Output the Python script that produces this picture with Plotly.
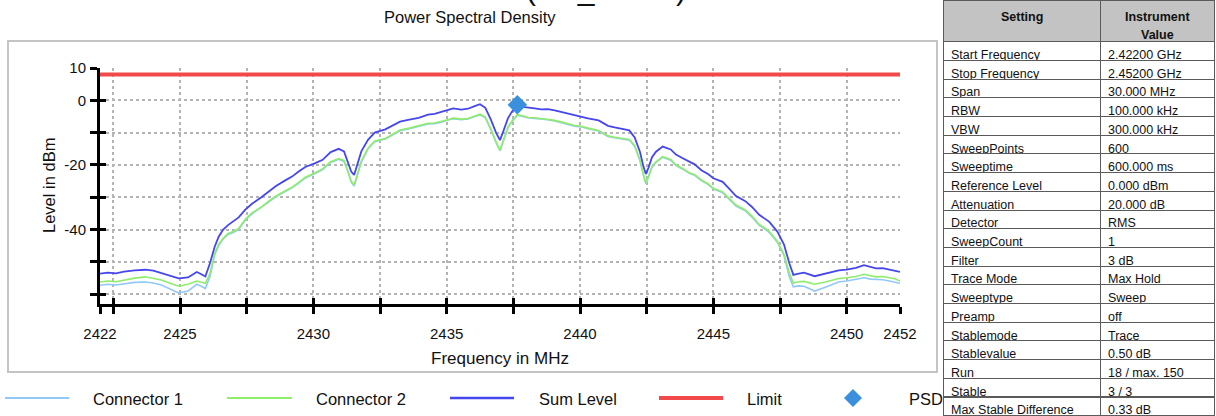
import plotly.graph_objects as go

W, H = 1216, 416

# ---------------- data ----------------
freq_mhz = [
    2422.0, 2422.3, 2422.6, 2422.9, 2423.3, 2423.7, 2424.0, 2424.3, 2424.6, 2424.95,
    2425.3, 2425.63, 2425.8, 2425.95, 2426.12, 2426.3, 2426.45, 2426.62, 2426.8, 2427.0,
    2427.2, 2427.45, 2427.7, 2428.05, 2428.35, 2428.6, 2428.9, 2429.2, 2429.45, 2429.7,
    2430.05, 2430.35, 2430.65, 2430.95, 2431.15, 2431.3, 2431.42, 2431.53, 2431.63, 2431.8,
    2432.05, 2432.3, 2432.7, 2433.0, 2433.25, 2433.6, 2433.95, 2434.3, 2434.55, 2434.8,
    2435.05, 2435.25, 2435.55, 2435.8, 2436.05, 2436.25, 2436.45, 2436.65, 2436.85, 2437.0,
    2437.15, 2437.3, 2437.45, 2437.65, 2437.85, 2438.05, 2438.3, 2438.55, 2438.8, 2439.05,
    2439.4, 2439.8, 2440.05, 2440.3, 2440.7, 2441.05, 2441.3, 2441.6, 2441.85, 2442.05,
    2442.25, 2442.38, 2442.47, 2442.57, 2442.7, 2442.85, 2443.1, 2443.4, 2443.6, 2443.85,
    2444.1, 2444.3, 2444.55, 2444.8, 2445.0, 2445.35, 2445.6, 2445.85, 2446.2, 2446.45,
    2446.72, 2446.9, 2447.1, 2447.4, 2447.65, 2447.85, 2448.0, 2448.2, 2448.4, 2448.8,
    2449.2, 2449.7, 2450.0, 2450.35, 2450.65, 2450.9, 2451.1, 2451.35, 2451.6, 2451.8,
    2452.0,
]

sum_level_dbm = [
    -53.6, -53.3, -53.5, -53.0, -52.6, -52.4, -52.7, -53.4, -54.2, -55.1,
    -54.8, -53.1, -53.8, -54.5, -50.5, -45.3, -42.2, -40.0, -38.6, -37.5,
    -36.2, -33.8, -32.0, -30.0, -28.0, -26.5, -25.0, -23.6, -22.0, -20.6,
    -19.5, -18.4, -16.0, -15.0, -15.8, -19.0, -22.0, -23.1, -20.5, -15.8,
    -12.2, -10.0, -9.0, -7.8, -6.6, -6.0, -5.4, -4.4, -4.2, -3.6,
    -3.0, -2.5, -2.9, -2.6, -1.8, -1.2, -2.3, -5.8, -10.0, -12.3,
    -9.0, -5.5, -3.5, -1.7, -2.0, -2.3, -2.5, -2.8, -2.7, -3.1,
    -3.8, -4.7, -5.0, -5.6, -6.2, -7.9, -8.4, -9.0, -9.3, -11.5,
    -16.0, -20.5, -22.8, -20.8, -17.6, -15.9, -14.3, -15.2, -16.8, -17.9,
    -19.0, -19.8, -21.6, -22.8, -24.1, -25.2, -27.4, -29.6, -31.2, -33.0,
    -35.4, -36.5, -37.6, -40.6, -44.6, -50.4, -54.0, -53.6, -53.3, -54.4,
    -53.5, -52.6, -52.4, -51.8, -51.0, -51.6, -52.0, -51.9, -52.4, -52.6,
    -53.1,
]

connector2_dbm = [
    -56.2, -55.9, -56.1, -55.6, -55.0, -54.6, -55.0, -55.6, -56.5, -57.5,
    -56.9, -55.9, -56.3, -56.6, -53.6, -47.4, -44.5, -42.7, -41.2, -40.6,
    -39.6, -36.8, -34.8, -33.0, -31.0, -29.6, -28.2, -26.9, -25.4, -23.8,
    -22.5, -21.2, -19.0, -18.0, -18.6, -21.8, -25.0, -26.2, -23.5, -18.8,
    -14.8, -12.6, -11.8, -10.4, -9.2, -8.6, -7.9, -7.1, -7.0, -6.6,
    -6.0, -5.5, -5.8, -5.6, -4.9, -4.3, -5.2, -8.7, -12.8, -15.4,
    -11.8, -8.3, -6.4, -4.4, -4.8, -5.3, -5.4, -5.6, -5.8, -6.2,
    -6.9, -7.8, -8.0, -8.6, -9.3, -11.0, -11.4, -11.8, -12.1, -14.0,
    -18.5, -23.0, -25.6, -23.5, -20.5, -19.0, -17.4, -18.3, -20.0, -21.1,
    -22.4, -23.0, -24.6, -25.8, -27.2, -28.3, -30.5, -32.4, -33.9, -35.8,
    -38.4, -39.3, -40.6, -43.6, -47.6, -53.4, -56.5, -56.1, -56.0, -56.9,
    -56.2, -55.1, -54.9, -54.5, -53.8, -54.3, -54.6, -54.5, -54.8, -55.2,
    -55.9,
]

connector1_dbm = [
    -57.2, -56.9, -57.1, -56.7, -56.3, -56.2, -56.5, -57.1, -58.2, -59.6,
    -59.0, -56.9, -57.5, -58.2, -54.6, -47.8, -44.9, -42.9, -41.5, -40.9,
    -39.9, -37.0, -35.1, -33.2, -31.3, -29.8, -28.4, -27.1, -25.6, -24.0,
    -22.7, -21.4, -19.2, -18.2, -18.9, -22.0, -25.3, -26.5, -23.8, -19.1,
    -15.0, -12.8, -12.0, -10.6, -9.4, -8.8, -8.0, -7.3, -7.2, -6.8,
    -6.1, -5.7, -6.0, -5.8, -5.0, -4.5, -5.4, -8.9, -13.0, -15.6,
    -12.0, -8.5, -6.6, -4.6, -5.0, -5.4, -5.6, -5.7, -6.0, -6.4,
    -7.1, -8.0, -8.2, -8.8, -9.5, -11.2, -11.6, -12.0, -12.3, -14.2,
    -18.7, -23.2, -25.8, -23.7, -20.7, -19.2, -17.6, -18.5, -20.2, -21.3,
    -22.6, -23.2, -24.8, -26.0, -27.4, -28.6, -30.8, -32.7, -34.2, -36.1,
    -38.7, -39.6, -40.9, -43.9, -48.0, -54.6, -57.7, -57.4, -57.5, -59.0,
    -57.8, -56.2, -55.9, -55.4, -54.9, -55.3, -55.4, -55.5, -55.9, -56.2,
    -56.6,
]

limit_freq = [2422, 2452]
limit_dbm = [8, 8]

psd_freq = [2437.65]
psd_dbm = [-1.4]

x_tick_vals = [2422, 2422.5, 2425, 2427.5, 2430, 2432.5, 2435, 2437.5,
               2440, 2442.5, 2445, 2447.5, 2450, 2452]
x_tick_text = ["2422", "", "2425", "", "2430", "", "2435", "",
               "2440", "", "2445", "", "2450", "2452"]
y_tick_vals = [10, 0, -10, -20, -30, -40, -50, -60]
y_tick_text = ["10", "0", "", "-20", "", "-40", "", ""]
x_range = [2422, 2452]
y_range = [-63, 10]

table_header = ["Setting", "Instrument", "Value"]
setting_names = [
    "Start Frequency", "Stop Frequency", "Span", "RBW", "VBW", "SweepPoints",
    "Sweeptime", "Reference Level", "Attenuation", "Detector", "SweepCount",
    "Filter", "Trace Mode", "Sweeptype", "Preamp", "Stablemode", "Stablevalue",
    "Run", "Stable", "Max Stable Difference",
]
setting_values = [
    "2.42200 GHz", "2.45200 GHz", "30.000 MHz", "100.000 kHz", "300.000 kHz", "600",
    "600.000 ms", "0.000 dBm", "20.000 dB", "RMS", "1",
    "3 dB", "Max Hold", "Sweep", "off", "Trace", "0.50 dB",
    "18 / max. 150", "3 / 3", "0.33 dB",
]

series_names = ["Connector 1", "Connector 2", "Sum Level", "Limit", "PSD"]

# ---------------- style ----------------
FONT = "Liberation Sans, Arial, sans-serif"
C_CON1 = "#92c8f6"
C_CON2 = "#8eee6a"
C_SUM = "#4646ee"
C_LIMIT = "#f24a4a"
C_PSD = "#3a90dc"
GRID = "#b4b4b4"
TABLE_LINE = "#5a5a5a"


def px(x):
    return x / W


def py(y):
    return 1 - y / H


fig = go.Figure()

fig.add_trace(go.Scatter(x=freq_mhz, y=connector1_dbm, mode="lines", name=series_names[0],
                         line=dict(color=C_CON1, width=1.6), showlegend=False))
fig.add_trace(go.Scatter(x=freq_mhz, y=connector2_dbm, mode="lines", name=series_names[1],
                         line=dict(color=C_CON2, width=1.6), showlegend=False))
fig.add_trace(go.Scatter(x=freq_mhz, y=sum_level_dbm, mode="lines", name=series_names[2],
                         line=dict(color=C_SUM, width=1.8), showlegend=False))
fig.add_trace(go.Scatter(x=limit_freq, y=limit_dbm, mode="lines", name=series_names[3],
                         line=dict(color=C_LIMIT, width=4), showlegend=False))
fig.add_trace(go.Scatter(x=psd_freq, y=psd_dbm, mode="markers", name=series_names[4],
                         marker=dict(symbol="diamond", size=15, color=C_PSD), showlegend=False))
# empty trace so the overlay axes (inner half of the crossing ticks) get drawn
fig.add_trace(go.Scatter(x=[], y=[], xaxis="x2", yaxis="y2", showlegend=False,
                         hoverinfo="skip"))

# settings table; header text drawn as annotations so the row keeps its height
TAB_X0, TAB_X1, TAB_DIV, HEAD_H = 943, 1214, 1100, 41.7
fig.add_trace(go.Table(
    domain=dict(x=[px(TAB_X0), px(TAB_X1)], y=[0, 1]),
    columnwidth=[TAB_DIV - TAB_X0, TAB_X1 - TAB_DIV],
    header=dict(values=["", ""], height=HEAD_H,
                fill_color="#c3c3c3", line=dict(color=TABLE_LINE, width=1),
                font=dict(family=FONT, size=12.5, color="#111")),
    cells=dict(values=[setting_names, setting_values],
               fill_color="white", line=dict(color=TABLE_LINE, width=1),
               align="left", height=18.7,
               font=dict(family=FONT, size=12.5, color="#111")),
))
for txt, hx, hy in [(table_header[0], (TAB_X0 + TAB_DIV) / 2, 17),
                    (table_header[1], (TAB_DIV + TAB_X1) / 2, 17),
                    (table_header[2], (TAB_DIV + TAB_X1) / 2, 35)]:
    fig.add_annotation(text=f"<b>{txt}</b>", x=px(hx), y=py(hy), xref="paper", yref="paper",
                       showarrow=False, xanchor="center", yanchor="middle",
                       font=dict(family=FONT, size=12.5, color="#111"))

axis_common = dict(
    showline=True, linecolor="black", linewidth=3,
    ticks="outside", ticklen=7, tickwidth=3, tickcolor="black",
    showgrid=True, gridcolor=GRID, gridwidth=2, griddash="dot",
    zeroline=False, automargin=False,
    tickfont=dict(family=FONT, size=15, color="#111"),
)
inner_ticks = dict(
    showline=False, showgrid=False, zeroline=False, showticklabels=False,
    ticks="inside", ticklen=6, tickwidth=3, tickcolor="black", automargin=False,
)

fig.update_layout(
    width=W, height=H, autosize=False,
    margin=dict(l=0, r=0, t=0, b=0, pad=0, autoexpand=False),
    paper_bgcolor="white", plot_bgcolor="white",
    font=dict(family=FONT, color="#111"),
    xaxis=dict(domain=[px(100), px(900)], range=x_range,
               tickmode="array", tickvals=x_tick_vals, ticktext=x_tick_text,
               ticklabelstandoff=7, **axis_common),
    yaxis=dict(domain=[py(304), py(68)], range=y_range,
               tickmode="array", tickvals=y_tick_vals, ticktext=y_tick_text,
               ticklabelstandoff=1, **axis_common),
    xaxis2=dict(overlaying="x", anchor="y2", side="bottom", range=x_range,
                tickmode="array", tickvals=x_tick_vals, **inner_ticks),
    yaxis2=dict(overlaying="y", anchor="x2", side="left", range=y_range,
                tickmode="array", tickvals=y_tick_vals, **inner_ticks),
)

# chart frame
fig.add_shape(type="rect", xref="paper", yref="paper",
              x0=px(8), x1=px(937), y0=py(372), y1=py(41),
              line=dict(color="#c4c4c4", width=2), layer="below")

ann = [
    dict(text="Power Spectral Density", x=px(470), y=py(17), size=16.5),
    dict(text="Frequency in MHz", x=px(500), y=py(358), size=17),
]
for a in ann:
    fig.add_annotation(text=a["text"], x=a["x"], y=a["y"], xref="paper", yref="paper",
                       showarrow=False, xanchor="center", yanchor="middle",
                       font=dict(family=FONT, size=a["size"], color="#111"))
fig.add_annotation(text="Level in dBm", x=px(49), y=py(186), xref="paper", yref="paper",
                   showarrow=False, textangle=-90, xanchor="center", yanchor="middle",
                   font=dict(family=FONT, size=16.5, color="#111"))
# clipped headline at very top
fig.add_annotation(text="(SU_MIMO)", x=px(606), y=py(8), xref="paper", yref="paper",
                   showarrow=False, xanchor="center", yanchor="bottom",
                   font=dict(family=FONT, size=30, color="#111"))

# custom legend row
leg_y = 398
legend_items = [
    (series_names[0], C_CON1, 2, 5, 69, 91),
    (series_names[1], C_CON2, 2, 227, 292, 314),
    (series_names[2], C_SUM, 2.5, 450, 514, 537),
    (series_names[3], C_LIMIT, 4, 659, 723, 745),
]
for name, col, lw, x0, x1, tx in legend_items:
    fig.add_shape(type="line", xref="paper", yref="paper",
                  x0=px(x0), x1=px(x1), y0=py(leg_y), y1=py(leg_y),
                  line=dict(color=col, width=lw))
    fig.add_annotation(text=name, x=px(tx), y=py(leg_y + 1), xref="paper", yref="paper",
                       showarrow=False, xanchor="left", yanchor="middle",
                       font=dict(family=FONT, size=16.5, color="#111"))
dcx, dcy, dr = 853, 398, 9
fig.add_shape(type="path", xref="paper", yref="paper",
              path=f"M {px(dcx - dr)} {py(dcy)} L {px(dcx)} {py(dcy - dr)} L {px(dcx + dr)} {py(dcy)} L {px(dcx)} {py(dcy + dr)} Z",
              fillcolor=C_PSD, line=dict(color=C_PSD, width=0))
fig.add_annotation(text=series_names[4], x=px(907), y=py(leg_y + 1), xref="paper", yref="paper",
                   showarrow=False, xanchor="left", yanchor="middle",
                   font=dict(family=FONT, size=16.5, color="#111"))

fig.write_html("out.html", config={"displayModeBar": False},
               post_script="document.body.style.margin='0px';")
